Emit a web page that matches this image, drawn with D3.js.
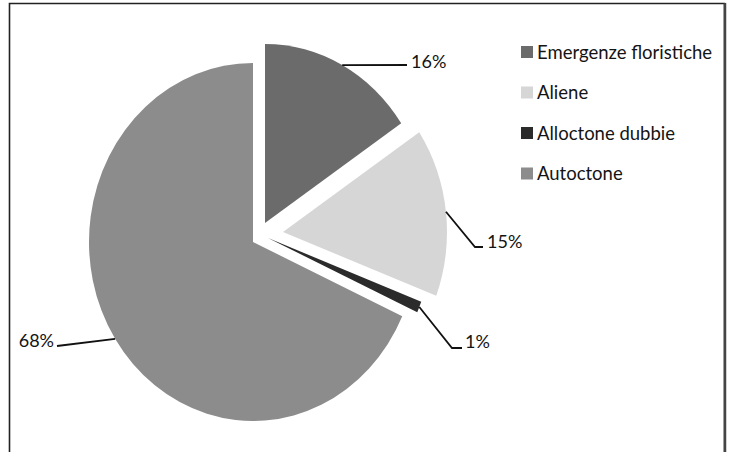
<!DOCTYPE html>
<html>
<head>
<meta charset="utf-8">
<script src="https://cdn.jsdelivr.net/npm/d3@7"></script>
<style>
  body { margin: 0; background: #fff; }
</style>
</head>
<body>
<div id="area"></div>
<script>

// data
const categorie = ["Emergenze floristiche", "Aliene", "Alloctone dubbie", "Autoctone"]
const valori = [15.6, 15.2, 1.0, 68.2]
const colori = ["#6b6b6b", "#d6d6d6", "#2b2b2b", "#8c8c8c"]

const width = 729
const height = 452

// pie geometry (ellipse, the picture is squeezed horizontally)
const cx = 253, cy = 242
const ry = 179, rx = 164

// explode offset of each slice, px
const explode = [[12, -19], [30, -10], [15, -4], [0, 0]]

// where the labels sit: leader bend, leader end, text pos, anchor
const labelPos = [
    {bend: null, end: [407, 65], text: [411, 68], anchor: "start"},
    {bend: [475, 247], end: [483, 247], text: [487, 248], anchor: "start"},
    {bend: [452, 348], end: [462, 348], text: [465, 348], anchor: "start"},
    {bend: null, end: [57, 346], text: [54, 347], anchor: "end"}
]

const font = "Lato, 'Open Sans', sans-serif"

const svg = d3.select("#area").append("svg")
    .attr("width", width)
    .attr("height", height)

// frame
svg.append("path")
    .attr("d", `M9.5,${height} V3.5 H724.5 V${height}`)
    .attr("fill", "none")
    .attr("stroke", "#222")
    .attr("stroke-width", 1.6)
svg.append("line")
    .attr("x1", 725).attr("x2", 725)
    .attr("y1", 3).attr("y2", height)
    .attr("stroke", "#444")
    .attr("stroke-width", 2.5)

const pie = d3.pie().sort(null).value(d => d)
const arcs = pie(valori)

const arc = d3.arc().innerRadius(0).outerRadius(ry)

const slices = svg.append("g")
    .selectAll("path")
    .data(arcs)
    .join("path")
    .attr("transform", (d, i) => `translate(${cx + explode[i][0]},${cy + explode[i][1]}) scale(${rx / ry},1)`)
    .attr("fill", (d, i) => colori[i])
    .attr("d", arc)

// leader lines, they start on the rim at the middle of the slice
const line = d3.line()

const labels = svg.append("g")
arcs.forEach((d, i) => {
    const mid = (d.startAngle + d.endAngle) / 2
    const ox = cx + explode[i][0]
    const oy = cy + explode[i][1]
    const start = [ox + rx * Math.sin(mid), oy - ry * Math.cos(mid)]
    const lp = labelPos[i]
    const pts = lp.bend ? [start, lp.bend, lp.end] : [start, lp.end]

    labels.append("path")
        .attr("d", line(pts))
        .attr("fill", "none")
        .attr("stroke", "#111")
        .attr("stroke-width", 1.8)

    labels.append("text")
        .attr("x", lp.text[0])
        .attr("y", lp.text[1])
        .attr("text-anchor", lp.anchor)
        .attr("font-family", font)
        .attr("font-size", 18)
        .attr("fill", "#141414")
        .text(Math.round(d.value) + "%")
})

// legend
const legend = svg.append("g")
    .attr("transform", "translate(521,52)")

const item = legend.selectAll("g")
    .data(categorie)
    .join("g")
    .attr("transform", (d, i) => `translate(0,${i * 40.5})`)

item.append("rect")
    .attr("x", 0)
    .attr("y", -6)
    .attr("width", 12)
    .attr("height", 12)
    .attr("fill", (d, i) => colori[i])

item.append("text")
    .attr("x", 16)
    .attr("y", 6.5)
    .attr("font-family", font)
    .attr("font-size", 18.5)
    .attr("fill", "#141414")
    .text(d => d)

</script>
</body>
</html>
